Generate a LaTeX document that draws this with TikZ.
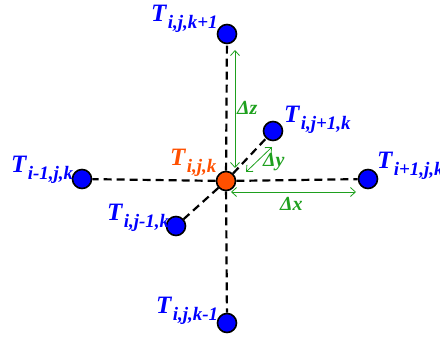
\documentclass[tikz,border=0pt]{standalone}
\usepackage{fontspec}
\setmainfont{Liberation Serif}
\usetikzlibrary{arrows.meta}
\definecolor{ptblue}{RGB}{0,0,255}
\definecolor{ptorange}{RGB}{255,80,0}
\definecolor{dgreen}{RGB}{30,160,30}
\newcommand{\Tlab}[1]{\textbf{\textit{T}}\kern0.5pt\raisebox{-7pt}{\fontsize{19}{19}\selectfont\textbf{\textit{#1}}}}
\begin{document}
\begin{tikzpicture}[
    x=1pt,y=-1pt,
    pt/.style={circle,draw=black,line width=1.6pt,minimum size=19pt,inner sep=0pt},
    lbl/.style={anchor=base west,inner sep=0pt,font=\fontsize{25}{25}\selectfont},
    dl/.style={dgreen,font=\fontsize{20}{20}\selectfont\bfseries\itshape,anchor=base west,inner sep=0pt},
    link/.style={line width=2.2pt,dash pattern=on 8pt off 5pt},
    gap/.style={dgreen,line width=0.8pt,{Straight Barb[length=5pt,width=9pt]}-{Straight Barb[length=5pt,width=9pt]}}
]
\useasboundingbox (0,0) rectangle (440,337);
% points
\node[pt,fill=ptorange] (c) at (226,181) {};
\node[pt,fill=ptblue] (kp) at (227,34) {};
\node[pt,fill=ptblue] (km) at (227,323) {};
\node[pt,fill=ptblue] (im) at (82,179) {};
\node[pt,fill=ptblue] (ip) at (368,179) {};
\node[pt,fill=ptblue] (jp) at (273,131) {};
\node[pt,fill=ptblue] (jm) at (176,226) {};
% dashed links
\draw[link] (c) -- (kp);
\draw[link] (c) -- (km);
\draw[link] (c) -- (im);
\draw[link] (c) -- (ip);
\draw[link] (c) -- (jp);
\draw[link] (c) -- (jm);
% labels
\node[lbl,text=ptorange] (lc) at (170,165) {\Tlab{i,j,k}};
\node[lbl,text=ptblue] (lkp) at (151,22) {\Tlab{i,j,k+1}};
\node[lbl,text=ptblue] (lkm) at (156,313) {\Tlab{i,j,k-1}};
\node[lbl,text=ptblue] (lim) at (11,172) {\Tlab{i-1,j,k}};
\node[lbl,text=ptblue] (lip) at (377,168) {\Tlab{i+1,j,k}};
\node[lbl,text=ptblue] (ljp) at (284,123) {\Tlab{i,j+1,k}};
\node[lbl,text=ptblue] (ljm) at (107,220) {\Tlab{i,j-1,k}};
% spacings
\coordinate (z1) at (235,50);
\coordinate (z2) at (235,168);
\coordinate (x1) at (231,192);
\coordinate (x2) at (356,192);
\coordinate (y1) at (246,172);
\coordinate (y2) at (272,147);
\draw[gap] (z1) -- (z2);
\draw[gap] (x1) -- (x2);
\draw[gap] (y1) -- (y2);
\node[dl] (dz) at (237,115) {Δz};
\node[dl] (dy) at (263,167) {Δy};
\node[dl] (dx) at (280,211) {Δx};
\end{tikzpicture}
\end{document}
